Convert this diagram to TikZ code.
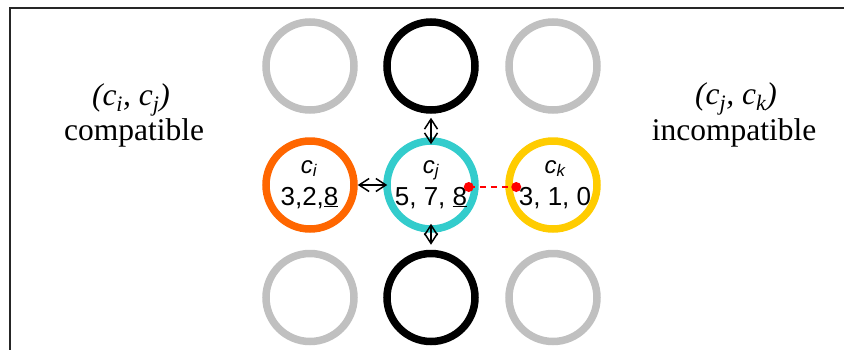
\documentclass[tikz,border=0pt]{standalone}
\usepackage{fontspec}
\setmainfont{Liberation Serif}
\newfontfamily\arialfont{Liberation Sans}
\usetikzlibrary{arrows.meta}
\definecolor{cellgrey}{RGB}{192,192,192}
\definecolor{cellorange}{RGB}{255,102,0}
\definecolor{cellcyan}{RGB}{51,204,204}
\definecolor{cellyellow}{RGB}{255,204,0}
\begin{document}
\begin{tikzpicture}[x=1pt, y=-1pt,
    cell/.style={circle, draw=#1, line width=7.5pt, minimum size=88pt, inner sep=0pt},
    celltxt/.style={anchor=base, inner sep=0pt, font=\arialfont\fontsize{26}{30}\selectfont},
    cellname/.style={anchor=base, inner sep=0pt, font=\arialfont\itshape\fontsize{24}{28}\selectfont},
    pairtxt/.style={anchor=base, inner sep=0pt, font=\fontsize{31.5}{36}\selectfont},
    link/.style={{Straight Barb[length=10pt,width=13pt]}-{Straight Barb[length=10pt,width=13pt]}, line width=1.5pt},
    conflict/.style={red, dashed, line width=2pt, dash pattern=on 6pt off 5pt},
    dot/.style={circle, fill=red, inner sep=0pt, minimum size=10pt}]
        \useasboundingbox (0,0) rectangle (844,349);
        \clip (0,0) rectangle (844,349);

        % Frame (right and bottom sides are cut off)
        \draw [line width=1.8pt, black!85] (10,370) -- (10,8) -- (870,8);

        % Neighbouring cells
        \node [cell=cellgrey] (nw) at (310,66) {};
        \node [cell=black] (n) at (431,66) {};
        \node [cell=cellgrey] (ne) at (553,66) {};
        \node [cell=cellgrey] (sw) at (310,297.5) {};
        \node [cell=black] (s) at (431,297.5) {};
        \node [cell=cellgrey] (se) at (553,297.5) {};

        % Cells c_i, c_j, c_k
        \node [cell=cellorange] (ci) at (310,185) {};
        \node [cell=cellcyan] (cj) at (431,185) {};
        \node [cell=cellyellow] (ck) at (553,185) {};

        \node [cellname] (ciname) at (309,173) {c\textsubscript{i}};
        \node [celltxt] (civals) at (309.5,205) {3,2,\underline{8}};
        \node [cellname] (cjname) at (431,173) {c\textsubscript{j}};
        \node [celltxt] (cjvals) at (431,205) {5, 7, \underline{8}};
        \node [cellname] (ckname) at (555,173) {c\textsubscript{k}};
        \node [celltxt] (ckvals) at (555,205) {3, 1, 0};

        % Neighbour links
        \draw [link, shorten >=-4pt] (ci.east) -- (cj.west);
        \draw [link, shorten <=4pt, shorten >=-7pt] (n.south) -- (cj.north);
        \draw [link, shorten <=-9pt, shorten >=5pt] (cj.south) -- (s.north);

        % Conflict between c_j and c_k
        \node [dot] (pj) at ([xshift=-10pt,yshift=-2pt]cj.east) {};
        \node [dot] (pk) at ([xshift=11pt,yshift=-2pt]ck.west) {};
        \draw [conflict] (pj.center) -- (pk.center);

        % Pair labels
        \node [pairtxt, font=\itshape\fontsize{31.5}{36}\selectfont] (pairij) at (131,105) {(c\textsubscript{i}, c\textsubscript{j})};
        \node [pairtxt] (compat) at (134,140) {compatible};
        \node [pairtxt, font=\itshape\fontsize{31.5}{36}\selectfont] (pairjk) at (736,104) {(c\textsubscript{j}, c\textsubscript{k})};
        \node [pairtxt] (incompat) at (734,140) {incompatible};
    \end{tikzpicture}
\end{document}
